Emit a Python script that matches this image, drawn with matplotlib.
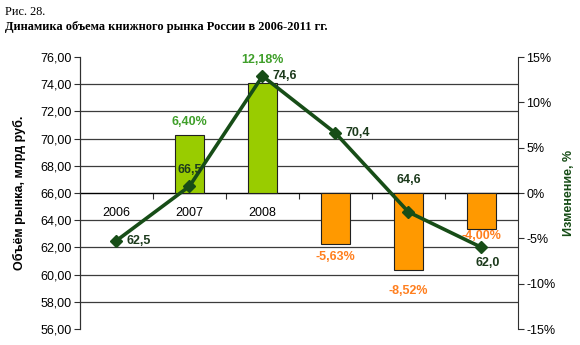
import matplotlib
matplotlib.use("Agg")
import matplotlib.pyplot as plt
from matplotlib.ticker import MultipleLocator, FixedLocator, FuncFormatter
import numpy as np

years = ["2006", "2007", "2008", "2009", "2010", "2011"]
volume = [62.5, 66.5, 74.6, 70.4, 64.6, 62.0]          # млрд руб.
change = [np.nan, 6.40, 12.18, -5.63, -8.52, -4.00]    # % к предыдущему году

volume_labels = ["62,5", "66,5", "74,6", "70,4", "64,6", "62,0"]
change_labels = ["", "6,40%", "12,18%", "-5,63%", "-8,52%", "-4,00%"]

# label offsets in pixels (dx, dy) and alignment
vol_offsets = [(10, 0, "left", "center"), (0, 16, "center", "center"),
               (10, 0, "left", "center"), (10, 0, "left", "center"),
               (0, 32, "center", "center"), (6, -16, "center", "center")]
chg_offsets = [0, 13, 23, -13, -21, -7]

plt.rcParams["font.family"] = ["Liberation Sans", "DejaVu Sans"]

LINE = "#174d17"
GREEN_BAR = "#99cc00"
ORANGE_BAR = "#ff9900"
GREEN_TXT = "#3f9f2a"
ORANGE_TXT = "#ff7f1e"
GRID = "#3c3c3c"

fig = plt.figure(figsize=(5.8, 3.45), dpi=100)
fig.patch.set_facecolor("white")

fig.text(5 / 580, 1 - 12 / 345, "Рис. 28.", family="Liberation Serif",
         fontsize=8.8, va="center", ha="left")
fig.text(5 / 580, 1 - 27 / 345,
         "Динамика объема книжного рынка России в 2006-2011 гг.",
         family="Liberation Serif", fontsize=8.9, fontweight="bold",
         va="center", ha="left")

rect = [80 / 580, 16 / 345, 438 / 580, 272 / 345]
ax_bar = fig.add_axes(rect)
ax_line = ax_bar.twinx()
x = np.arange(len(years))

# bars: percentage change on the right axis
bar_colors = [GREEN_BAR if (not np.isnan(v) and v >= 0) else ORANGE_BAR for v in change]
ax_bar.bar(x, change, width=0.41, color=bar_colors, edgecolor="#202020",
           linewidth=0.8, zorder=3)
ax_bar.set_xlim(-0.5, len(years) - 0.5)
ax_bar.set_ylim(-15, 15)
ax_bar.yaxis.tick_right()
ax_bar.yaxis.set_label_position("right")
ax_bar.yaxis.set_major_locator(MultipleLocator(5))
ax_bar.yaxis.set_major_formatter(FuncFormatter(lambda v, p: f"{v:.0f}%"))
ax_bar.yaxis.set_minor_locator(MultipleLocator(3))
ax_bar.tick_params(axis="y", which="major", direction="out", length=4,
                   width=0.8, color="#303030", labelsize=9, pad=2,
                   labelcolor="black", left=False, labelleft=False,
                   right=True, labelright=True)
ax_bar.tick_params(axis="y", which="minor", length=0, left=False, right=False)
ax_bar.grid(axis="y", which="minor", color=GRID, linewidth=0.9, zorder=0)
ax_bar.grid(axis="y", which="major", visible=False)
ax_bar.set_axisbelow(True)
ax_bar.set_ylabel("Изменение, %", color=LINE, fontsize=9, fontweight="bold",
                  labelpad=5)

# category axis crosses at zero
ax_bar.spines["bottom"].set_position(("data", 0))
ax_bar.spines["bottom"].set_color("black")
ax_bar.spines["bottom"].set_linewidth(1.0)
ax_bar.spines["top"].set_visible(False)
ax_bar.spines["left"].set_color("#303030")
ax_bar.spines["right"].set_color("#303030")
ax_bar.set_xticks(x)
ax_bar.set_xticklabels(years)
ax_bar.xaxis.set_minor_locator(FixedLocator(np.arange(0.5, len(years) - 0.5, 1)))
ax_bar.tick_params(axis="x", which="major", length=0, labelsize=9, pad=10)
ax_bar.tick_params(axis="x", which="minor", direction="out", length=4,
                   width=0.8, color="#303030")

for xi, v, lab, dy in zip(x, change, change_labels, chg_offsets):
    if np.isnan(v):
        continue
    ax_bar.annotate(lab, (xi, v), xytext=(0, dy), textcoords="offset pixels",
                    ha="center", va="center", fontsize=9, fontweight="bold",
                    color=GREEN_TXT if v >= 0 else ORANGE_TXT, zorder=4)

# line: market volume on the left axis
ax_line.patch.set_visible(False)
ax_line.yaxis.tick_left()
ax_line.yaxis.set_label_position("left")
ax_line.set_ylim(56, 76)
ax_line.yaxis.set_major_locator(MultipleLocator(2))
ax_line.yaxis.set_major_formatter(FuncFormatter(lambda v, p: f"{v:.2f}".replace(".", ",")))
ax_line.tick_params(axis="y", direction="out", length=4, width=0.8,
                    color="#303030", labelsize=9, pad=2,
                    left=True, labelleft=True, right=False, labelright=False)
for s in ["top", "bottom", "right"]:
    ax_line.spines[s].set_visible(False)
ax_line.spines["left"].set_color("#303030")
ax_line.set_ylabel("Объём рынка, млрд руб.", fontsize=9, fontweight="bold",
                   labelpad=10)
ax_line.plot(x, volume, color=LINE, linewidth=2.6, marker="D", markersize=6.5,
             markerfacecolor=LINE, markeredgecolor=LINE, zorder=5)

for xi, v, lab, (dx, dy, ha, va) in zip(x, volume, volume_labels, vol_offsets):
    ax_line.annotate(lab, (xi, v), xytext=(dx, dy), textcoords="offset pixels",
                     ha=ha, va=va, fontsize=9, fontweight="bold",
                     color="#1c3a1c", zorder=6)

fig.savefig("out.png", dpi=100, facecolor="white")
